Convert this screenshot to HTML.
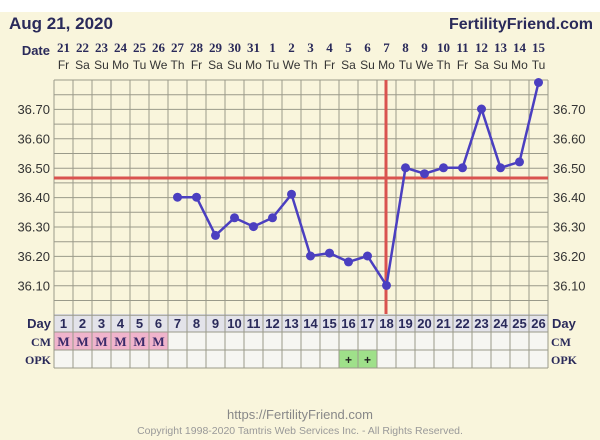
<!DOCTYPE html>
<html><head><meta charset="utf-8"><style>
html,body{margin:0;padding:0;background:#fff;}
svg{display:block;font-family:"Liberation Sans",sans-serif;}
</style></head><body>
<svg id="s" width="600" height="440" xmlns="http://www.w3.org/2000/svg">
<rect x="0" y="12" width="600" height="428" fill="#f9f5dc"/>
<text x="9" y="29" font-size="17" font-weight="bold" fill="#2a2a5a">Aug 21, 2020</text>
<text x="593" y="29" font-size="16" font-weight="bold" fill="#2a2a5a" text-anchor="end">FertilityFriend.com</text>
<text x="50" y="55" font-size="13" font-weight="bold" fill="#2a2a5a" text-anchor="end">Date</text>
<g id="g"></g>
<text x="300" y="419" font-size="13" fill="#888" text-anchor="middle">https://FertilityFriend.com</text>
<text x="300" y="434" font-size="10.5" fill="#999" text-anchor="middle">Copyright 1998-2020 Tamtris Web Services Inc. - All Rights Reserved.</text>
</svg>
<script>
var g=document.getElementById('g'),h='';
var L=54,W=19,T=80,B=314;
function Y(t){return 109+(36.70-t)*294;}
var dates=[21,22,23,24,25,26,27,28,29,30,31,1,2,3,4,5,6,7,8,9,10,11,12,13,14,15];
var wd=['Fr','Sa','Su','Mo','Tu','We','Th','Fr','Sa','Su','Mo','Tu','We','Th','Fr','Sa','Su','Mo','Tu','We','Th','Fr','Sa','Su','Mo','Tu'];
for(var i=0;i<26;i++){var cx=L+W*i+W/2;
h+='<text x="'+cx+'" y="52" font-size="13" font-weight="bold" fill="#2a2a5a" text-anchor="middle" font-family="Liberation Serif,serif">'+dates[i]+'</text>';
h+='<text x="'+cx+'" y="69" font-size="12" fill="#333" text-anchor="middle">'+wd[i]+'</text>';}
// rows
h+='<rect x="'+L+'" y="'+B+'" width="494" height="18" fill="#e3e3ea"/>';
h+='<rect x="'+L+'" y="332" width="494" height="36" fill="#f6f6f2"/>';
h+='<rect x="'+L+'" y="332" width="114" height="18" fill="#f0b4cc"/>';
h+='<rect x="'+(L+15*W)+'" y="350" width="38" height="18" fill="#9fe08a"/>';
// horizontal grid
for(var k=0;k<=16;k++){var y=T+k*14.7;h+='<line x1="'+L+'" x2="548" y1="'+y+'" y2="'+y+'" stroke="#9a9a8a" stroke-width="1"/>';}
[332,350,368].forEach(function(y){h+='<line x1="'+L+'" x2="548" y1="'+y+'" y2="'+y+'" stroke="#9a9a8a"/>';});
for(var i=0;i<=26;i++){var x=L+W*i;h+='<line x1="'+x+'" x2="'+x+'" y1="'+T+'" y2="368" stroke="#9a9a8a"/>';}
// y labels
for(var k=0;k<7;k++){var t=36.70-k*0.1,y=Y(t)+5;
h+='<text x="50" y="'+y+'" font-size="13" fill="#333" text-anchor="end">'+t.toFixed(2)+'</text>';
h+='<text x="553" y="'+y+'" font-size="13" fill="#333">'+t.toFixed(2)+'</text>';}
// day row
for(var i=0;i<26;i++){var cx=L+W*i+W/2;
h+='<text x="'+cx+'" y="328" font-size="13" font-weight="bold" fill="#2a2a5a" text-anchor="middle">'+(i+1)+'</text>';
if(i<6)h+='<text x="'+cx+'" y="346" font-size="13" font-weight="bold" fill="#3a2a6a" text-anchor="middle" font-family="Liberation Serif,serif">M</text>';}
h+='<text x="'+(L+15.5*W)+'" y="364" font-size="12" font-weight="bold" fill="#222" text-anchor="middle">+</text>';
h+='<text x="'+(L+16.5*W)+'" y="364" font-size="12" font-weight="bold" fill="#222" text-anchor="middle">+</text>';
h+='<text x="51" y="328" font-size="13" font-weight="bold" fill="#2a2a5a" text-anchor="end">Day</text>';
h+='<text x="51" y="346" font-size="12" font-weight="bold" fill="#2a2a5a" text-anchor="end" font-family="Liberation Serif,serif">CM</text>';
h+='<text x="51" y="364" font-size="12" font-weight="bold" fill="#2a2a5a" text-anchor="end" font-family="Liberation Serif,serif">OPK</text>';
h+='<text x="552" y="328" font-size="13" font-weight="bold" fill="#2a2a5a">Day</text>';
h+='<text x="551" y="346" font-size="12" font-weight="bold" fill="#2a2a5a" font-family="Liberation Serif,serif">CM</text>';
h+='<text x="551" y="364" font-size="12" font-weight="bold" fill="#2a2a5a" font-family="Liberation Serif,serif">OPK</text>';
// coverline and ovulation line
h+='<line x1="'+L+'" x2="548" y1="178" y2="178" stroke="#d9534f" stroke-width="3"/>';
h+='<line x1="386" x2="386" y1="'+T+'" y2="'+B+'" stroke="#d9534f" stroke-width="3"/>';
var d={7:36.40,8:36.40,9:36.27,10:36.33,11:36.30,12:36.33,13:36.41,14:36.20,15:36.21,16:36.18,17:36.20,18:36.10,19:36.50,20:36.48,21:36.50,22:36.50,23:36.70,24:36.50,25:36.52,26:36.79};
var pts=[];for(var k=7;k<=26;k++)pts.push((L+W*(k-1)+W/2)+','+Y(d[k]).toFixed(1));
h+='<polyline points="'+pts.join(' ')+'" fill="none" stroke="#4b3fc0" stroke-width="2.5"/>';
pts.forEach(function(p){var a=p.split(',');h+='<circle cx="'+a[0]+'" cy="'+a[1]+'" r="4.5" fill="#4b3fc0"/>';});
g.innerHTML=h;
</script>
</body></html>
